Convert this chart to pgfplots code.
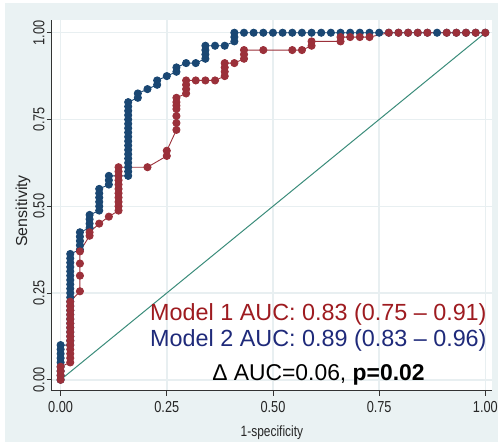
\documentclass[border=0pt]{standalone}
\usepackage{fontspec}
\setmainfont{Liberation Sans}
\newfontfamily\narrow[FakeStretch=0.8]{Liberation Sans}
\usepackage{pgfplots}
\pgfplotsset{compat=1.18}
\definecolor{stbg}{RGB}{234,242,243}
\definecolor{stgrid}{RGB}{232,239,241}
\definecolor{mnavy}{RGB}{26,71,115}
\definecolor{mmaroon}{RGB}{155,48,58}
\definecolor{diag}{RGB}{58,140,122}
\definecolor{txtred}{RGB}{158,27,32}
\definecolor{txtblue}{RGB}{31,42,122}
\begin{document}
\begin{tikzpicture}
\fill[white] (0,0) rectangle (501bp,449bp);
\fill[stbg] (5bp,4bp) rectangle (501bp,446bp);
\begin{axis}[
  at={(52bp,56bp)}, anchor=south west,
  scale only axis, width=443bp, height=373bp,
  xmin=-0.021, xmax=1.016, ymin=-0.0315, ymax=1.037,
  axis background/.style={fill=white},
  axis lines*=left, axis line style={color=black!80, line width=0.8bp},
  tick align=outside, major tick length=5bp,
  tick style={color=black!80, line width=0.8bp},
  xtick={0,0.25,0.5,0.75,1}, ytick={0,0.25,0.5,0.75,1},
  xticklabels={0.00,0.25,0.50,0.75,1.00},
  yticklabels={0.00,0.25,0.50,0.75,1.00},
  ticklabel style={font=\narrow\fontsize{16bp}{18bp}\selectfont, text=black!85},
  xticklabel style={yshift=-2bp},
  yticklabel style={rotate=90, anchor=south, inner sep=2bp},
  grid=major, major grid style={color=stgrid, line width=1.5bp},
  xlabel={1-specificity}, ylabel={Sensitivity},
  xlabel style={font=\narrow\fontsize{15bp}{17bp}\selectfont, text=black!85,
    at={(axis description cs:0.5,-0.113)}, anchor=center},
  ylabel style={font=\fontsize{16bp}{18bp}\selectfont, text=black!85,
    at={(axis description cs:-0.065,0.485)}, anchor=center},
  clip=false,
]
\addplot[diag, line width=1bp, no marks] coordinates {(0,0) (1,1)};
% Model 2
\addplot[mnavy, line width=0.9bp, mark=*, mark size=3.6bp] coordinates {
 (0,0)(0,.0125)(0,.025)(0,.0375)(0,.05)(0,.0625)(0,.075)(0,.0875)(0,.1)
 (.0227,.1)(.0227,.1125)(.0227,.125)(.0227,.1375)(.0227,.15)(.0227,.1625)(.0227,.175)(.0227,.1875)
 (.0227,.2)(.0227,.2125)(.0227,.225)(.0227,.2375)(.0227,.25)(.0227,.2625)(.0227,.275)(.0227,.2875)
 (.0227,.3)(.0227,.3125)(.0227,.325)(.0227,.3375)(.0227,.35)(.0227,.3625)
 (.0455,.375)(.0455,.3875)(.0455,.4)(.0455,.4125)(.0455,.425)
 (.0682,.4375)(.0682,.45)(.0682,.4625)(.0682,.475)
 (.0909,.4875)(.0909,.5)(.0909,.5125)(.0909,.525)(.0909,.5375)(.0909,.55)
 (.1136,.5625)(.1136,.575)(.1136,.5875)
 (.1591,.5875)(.1591,.6)(.1591,.6125)(.1591,.625)(.1591,.6375)(.1591,.65)(.1591,.6625)(.1591,.675)
 (.1591,.6875)(.1591,.7)(.1591,.7125)(.1591,.725)(.1591,.7375)(.1591,.75)(.1591,.7625)(.1591,.775)
 (.1591,.7875)(.1591,.8)
 (.1818,.8125)(.1818,.825)(.2045,.8375)(.2273,.85)(.2273,.8625)(.25,.875)
 (.2727,.8875)(.2727,.9)(.2955,.9125)(.3182,.9125)
 (.3409,.925)(.3409,.9375)(.3409,.95)(.3409,.9625)(.3636,.9625)(.3864,.9625)
 (.4091,.975)(.4091,.9875)(.4091,1)
 (.4318,1)(.4545,1)(.4773,1)(.5,1)(.5227,1)(.5455,1)(.5682,1)(.5909,1)(.6136,1)(.6364,1)
 (.6591,1)(.6818,1)(.7045,1)(.7273,1)(.75,1)(.7727,1)(.7955,1)(.8182,1)(.8409,1)(.8636,1)
 (.8864,1)(.9091,1)(.9318,1)(.9545,1)(.9773,1)(1,1)};
% Model 1
\addplot[mmaroon, line width=0.9bp, mark=*, mark size=3.6bp] coordinates {
 (0,0)(0,.0125)(0,.025)(0,.0375)
 (.0227,.05)(.0227,.0625)(.0227,.075)(.0227,.0875)(.0227,.1)(.0227,.1125)(.0227,.125)(.0227,.1375)
 (.0227,.15)(.0227,.1625)(.0227,.175)(.0227,.1875)(.0227,.2)(.0227,.2125)(.0227,.225)
 (.0455,.255)(.0455,.30)(.0455,.335)(.0455,.37)
 (.0682,.415)(.0682,.425)(.0909,.45)(.1136,.47)
 (.1364,.4875)(.1364,.5)(.1364,.5125)(.1364,.525)(.1364,.5375)(.1364,.55)(.1364,.5625)(.1364,.575)
 (.1364,.5875)(.1364,.6)(.1364,.6125)
 (.2045,.6125)(.25,.645)(.25,.66)
 (.2727,.72)(.2727,.74)(.2727,.76)(.2727,.78)(.2727,.79)(.2727,.8)(.2727,.8125)
 (.2955,.825)(.2955,.8375)(.2955,.85)(.2955,.8625)
 (.3182,.8625)(.3409,.8625)(.3636,.8625)
 (.3864,.875)(.3864,.8875)(.3864,.9)(.3864,.9125)(.4091,.9125)
 (.4318,.925)(.4318,.9375)(.4318,.95)(.4773,.95)
 (.5455,.95)(.5682,.95)(.5909,.9625)(.5909,.975)
 (.6591,.975)(.6591,.9875)(.6818,.9875)(.7045,.9875)(.7273,.9875)
 (.7727,1)(.7955,1)(.8182,1)(.8409,1)(.8636,1)(.9091,1)(.9318,1)(.9545,1)(.9773,1)(1,1)};
\node[anchor=base, text=txtred, font=\fontsize{23.5bp}{27bp}\selectfont]
  at (axis cs:0.607,0.172) {Model 1 AUC: 0.83 (0.75 -- 0.91)};
\node[anchor=base, text=txtblue, font=\fontsize{23.5bp}{27bp}\selectfont]
  at (axis cs:0.607,0.0946) {Model 2 AUC: 0.89 (0.83 -- 0.96)};
\node[anchor=base, text=black, font=\fontsize{23bp}{27bp}\selectfont]
  at (axis cs:0.607,-0.003) {Δ AUC=0.06, \textbf{p=0.02}};
\end{axis}
\end{tikzpicture}
\end{document}
